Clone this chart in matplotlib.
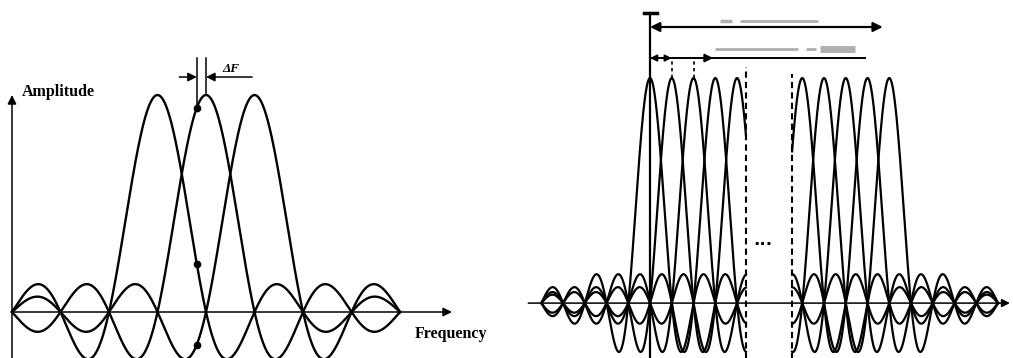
import numpy as np
import matplotlib.pyplot as plt

# ---- left panel: three orthogonal sub-carriers (x in units of spacing) ----
left_centers = [3, 4, 5]
left_span = (0, 8)
sample_offset = -0.19      # frequency offset ΔF of the sampling point
left_labels = {"y": "Amplitude", "x": "Frequency", "offset": "ΔF"}

# ---- right panel: two groups of sub-carriers separated by a gap ----
group_a = [0, 1, 2, 3, 4]
group_b = [7, 8, 9, 10, 11]
group_a_span = (-5, 4.41)
group_b_span = (6.53, 16)
gap_label = "..."

# faded (unreadable) annotation strokes above the arrows: (x0, x1, y, width)
faded_strokes = [(3.2, 3.77, 1.253, 2.5), (4.14, 7.72, 1.253, 2.0),
                 (3.0, 6.8, 1.129, 2.0), (7.17, 7.63, 1.129, 2.0),
                 (7.82, 9.43, 1.129, 5.0)]

fig = plt.figure(figsize=(10.13, 3.58), dpi=100)

# ================= left =================
ax = fig.add_axes([0, 0, 500 / 1013, 1])
ax.set_xlim(-0.247, 10.06)
ax.set_ylim(-0.212, 1.438)
ax.axis('off')

x = np.linspace(left_span[0], left_span[1], 2000)
for c in left_centers:
    ax.plot(x, np.sinc(x - c), color='k', lw=1.7)

xs = left_centers[1] + sample_offset
for c in left_centers:
    ax.plot(xs, np.sinc(xs - c), 'o', color='k', ms=4.5)

arrow = dict(arrowstyle='-|>', color='k', lw=1.1, mutation_scale=13,
             shrinkA=0, shrinkB=0)
ax.annotate('', xy=(0, 1.0), xytext=(0, -0.3), arrowprops=arrow,
            annotation_clip=False)
ax.annotate('', xy=(9.07, 0), xytext=(0, 0), arrowprops=arrow)

# ΔF markers
ax.plot([xs, xs], [np.sinc(xs - 4), 1.17], color='k', lw=1.1)
ax.plot([4, 4], [1.0, 1.17], color='k', lw=1.1)
ax.annotate('', xy=(xs, 1.083), xytext=(3.45, 1.083), arrowprops=arrow)
ax.annotate('', xy=(4.0, 1.083), xytext=(4.95, 1.083), arrowprops=arrow)

serif = dict(fontfamily='Liberation Serif', fontweight='bold', color='k')
ax.text(0.2, 1.014, left_labels["y"], fontsize=11.5, va='center', **serif)
ax.text(9.05, -0.1, left_labels["x"], fontsize=11.5, ha='center',
        va='center', **serif)
ax.text(4.52, 1.12, left_labels["offset"], fontsize=9.5, ha='center',
        va='center', style='italic', **serif)

# ================= right =================
ar = fig.add_axes([520 / 1013, 0, 493 / 1013, 1])
ar.set_xlim(-5.98, 16.69)
ar.set_ylim(-0.244, 1.347)
ar.axis('off')

for centers, span in ((group_a, group_a_span), (group_b, group_b_span)):
    xx = np.linspace(span[0], span[1], 2000)
    for c in centers:
        ar.plot(xx, np.sinc(xx - c), color='k', lw=1.6)

ar.annotate('', xy=(16.55, 0), xytext=(-5.6, 0),
            arrowprops=dict(arrowstyle='-|>', color='k', lw=1.1,
                            mutation_scale=12, shrinkA=0, shrinkB=0))

# group boundaries
ar.plot([group_a_span[1]] * 2, [-0.3, 1.05], color='k', lw=1.5,
        ls=(0, (3, 2)))
ar.plot([group_b_span[0]] * 2, [-0.3, 1.02], color='k', lw=1.5,
        ls=(0, (3, 2)))
ar.text(5.2, 0.28, gap_label, fontsize=12, fontweight='bold',
        ha='center', va='center')

# bandwidth arrows
ar.plot([0, 0], [-0.3, 1.289], color='k', lw=1.6)
ar.plot([-0.3, 0.3], [1.289, 1.289], color='k', lw=2.5)
big = dict(arrowstyle='<|-|>', color='k', lw=1.6, mutation_scale=14,
           shrinkA=0, shrinkB=0)
ar.annotate('', xy=(0, 1.227), xytext=(10.7, 1.227), arrowprops=big)
ar.plot([0, 9.9], [1.089, 1.089], color='k', lw=1.4)
small = dict(arrowstyle='<|-|>', color='k', lw=1.2, mutation_scale=10,
             shrinkA=0, shrinkB=0)
ar.annotate('', xy=(0, 1.089), xytext=(1, 1.089), arrowprops=small)
ar.annotate('', xy=(2, 1.089), xytext=(2.9, 1.089),
            arrowprops=dict(arrowstyle='<|-', color='k', lw=1.4,
                            mutation_scale=12, shrinkA=0, shrinkB=0))
for c in group_a[1:3]:
    ar.plot([c, c], [1.0, 1.089], color='k', lw=1.2, ls=(0, (2, 2)))

for x0, x1, y, w in faded_strokes:
    ar.plot([x0, x1], [y, y], color='#b0b0b0', lw=w, solid_capstyle='butt')

fig.savefig('out.png', dpi=100)
